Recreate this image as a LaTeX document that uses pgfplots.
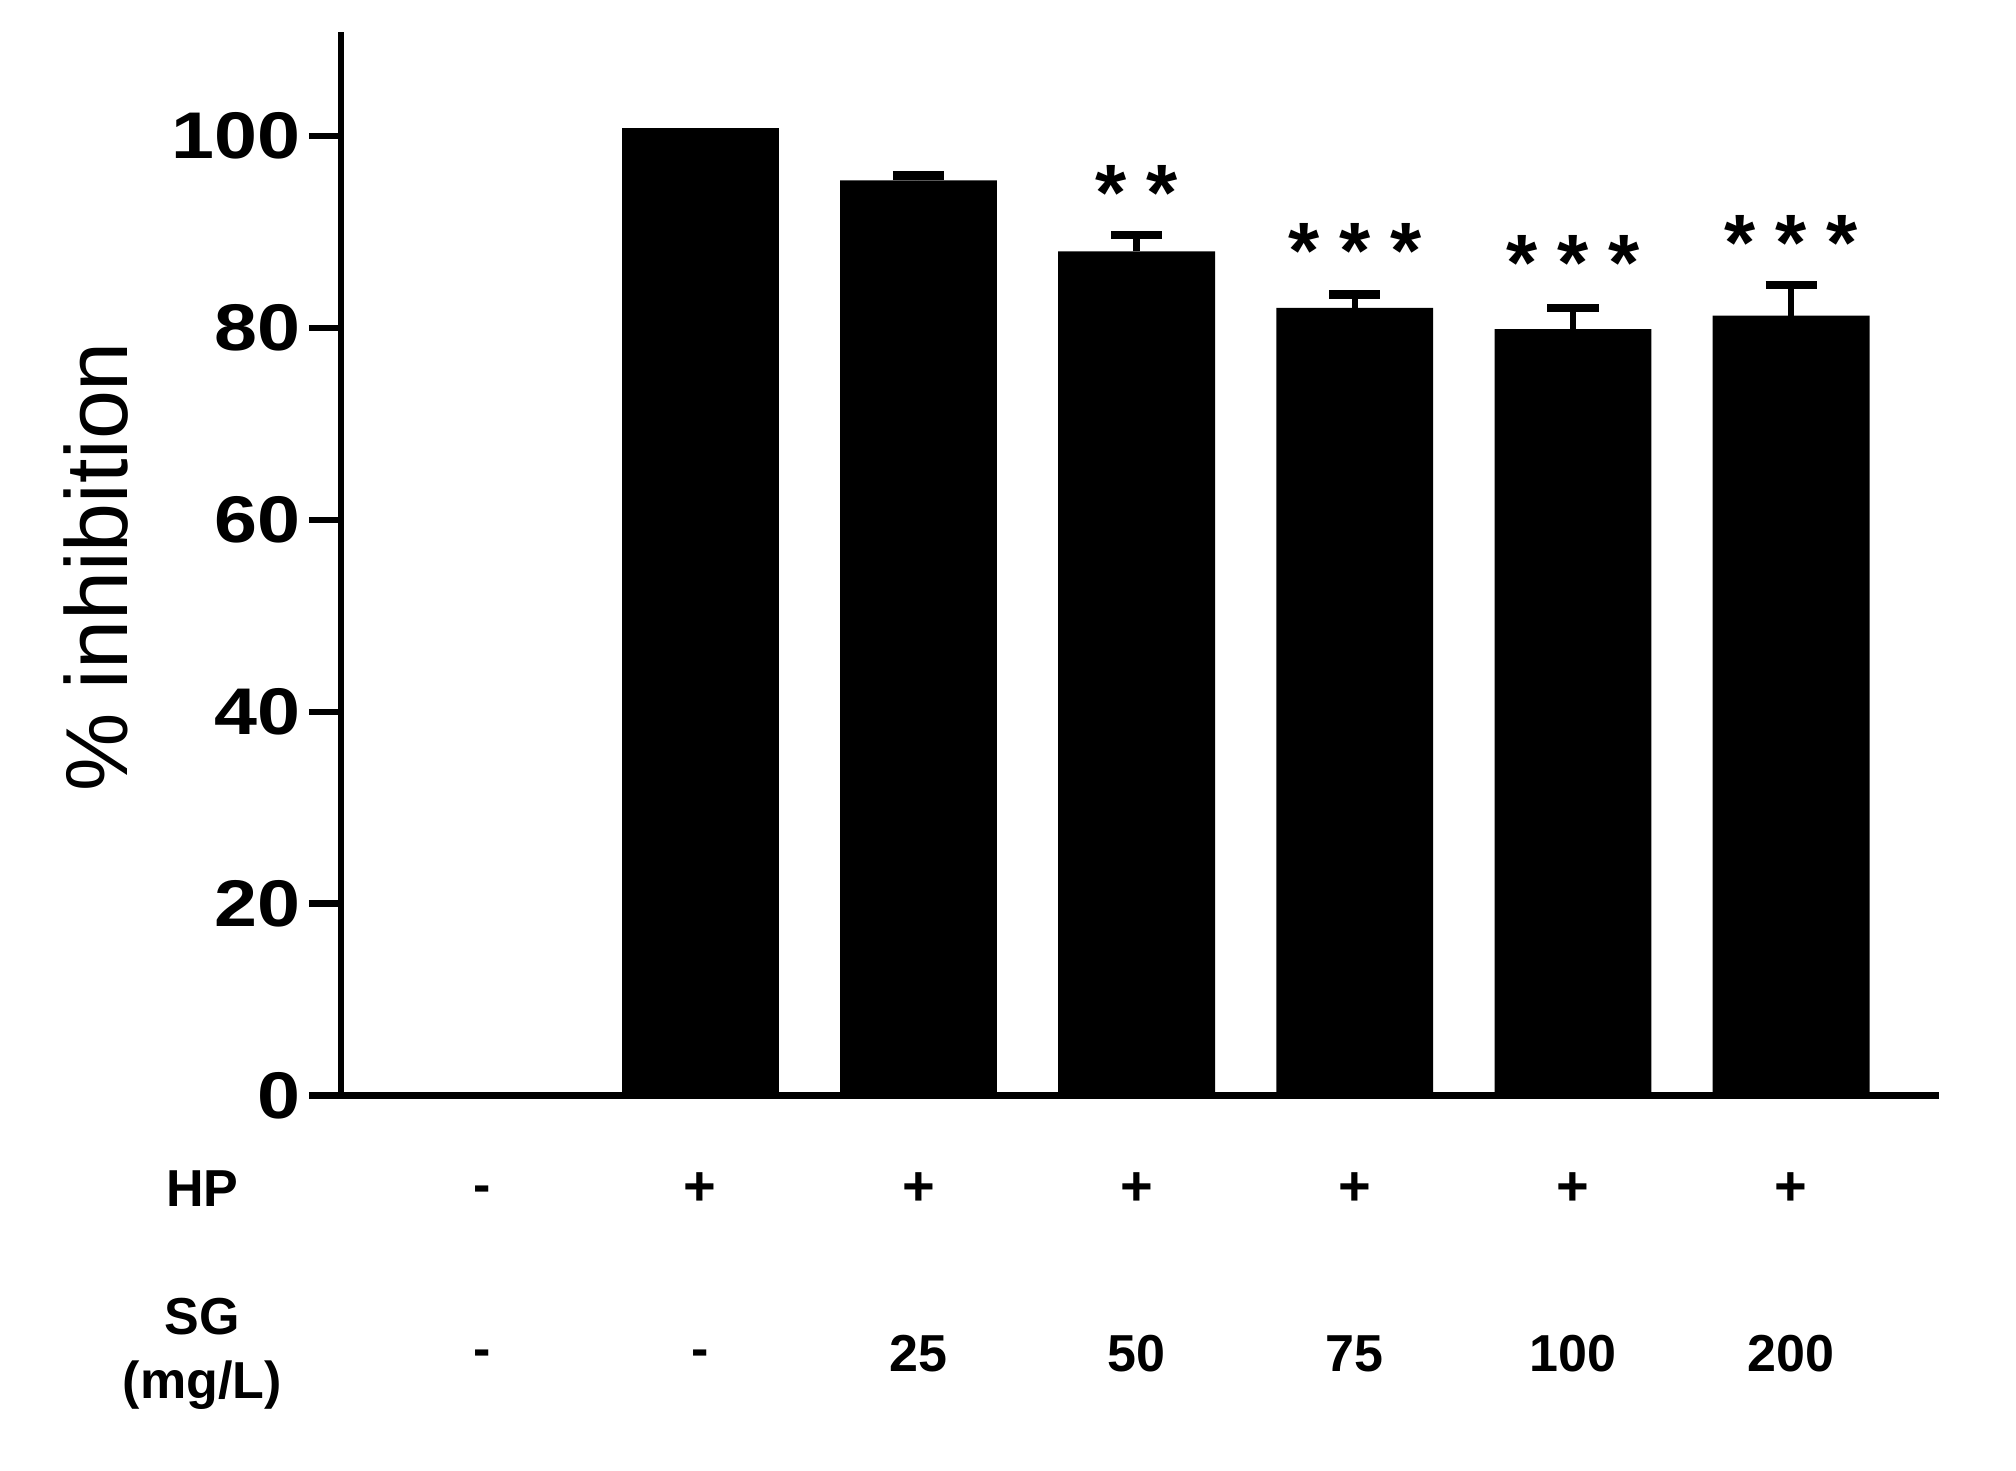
\documentclass[border=0pt]{standalone}
\usepackage{graphicx}
\usepackage{pgfplots}
\pgfplotsset{compat=1.18}
\usepackage{fontspec}
\setmainfont{Liberation Sans}
\begin{document}
\begin{tikzpicture}
\path[use as bounding box] (-85.2pt,-93.85pt) rectangle (418.8pt,273.85pt);
\begin{axis}[
  at={(0,0)}, anchor=south west,
  scale only axis,
  width=399.5pt, height=265.85pt,
  xmin=-0.648, xmax=6.677,
  ymin=0, ymax=110.87,
  axis x line*=bottom, axis y line*=left,
  axis line style={line width=1.6pt,-},
  xtick=\empty,
  ytick={0,20,40,60,80,100},
  tick align=outside,
  major tick length=8pt,
  tick style={line width=1.6pt,black},
  /pgf/number format/assume math mode=true,
  yticklabel style={font=\fontsize{16.5}{16.5}\selectfont\bfseries, inner sep=2pt},
  yticklabel={\scalebox{1.17}[1]{\pgfmathprintnumber{\tick}}},
  clip=false,
  ybar, bar width=39.2pt, bar shift=0pt,
]
\addplot[fill=black, draw=none] coordinates {(1,100.9)};
\addplot[fill=black, draw=none,
  error bars/.cd, y dir=plus, y explicit,
  error bar style={line width=1.6pt,black},
  error mark options={line width=2.2pt, mark size=6.4pt, rotate=90}]
  table[x=x, y=y, y error=e] {
x y e
2 95.4 0.5
3 88.0 1.7
4 82.1 1.4
5 79.9 2.2
6 81.3 3.2
};
% significance stars
\node[anchor=north, inner sep=0pt, font=\fontsize{20}{20}\selectfont\bfseries] at (axis cs:3,97.0) {*\hspace{5pt}*};
\node[anchor=north, inner sep=0pt, font=\fontsize{20}{20}\selectfont\bfseries] at (axis cs:4,91.0) {*\hspace{5pt}*\hspace{5pt}*};
\node[anchor=north, inner sep=0pt, font=\fontsize{20}{20}\selectfont\bfseries] at (axis cs:5,89.7) {*\hspace{5pt}*\hspace{5pt}*};
\node[anchor=north, inner sep=0pt, font=\fontsize{20}{20}\selectfont\bfseries] at (axis cs:6,91.8) {*\hspace{5pt}*\hspace{5pt}*};
% y label
\node[rotate=90, font=\fontsize{22}{22}\selectfont] at (axis cs:-1.769,55.1) {\% inhibition};
% treatment rows
\node[font=\fontsize{13}{13}\selectfont\bfseries] at (axis cs:-1.283,-9.76) {HP};
\node[font=\fontsize{13}{13}\selectfont\bfseries, align=center] at (axis cs:-1.283,-26.9) {SG\\[3pt](mg/L)};
\node[font=\fontsize{13}{13}\selectfont\bfseries] at (axis cs:0,-10.3) {-};
\node[font=\fontsize{14}{14}\selectfont\bfseries] at (axis cs:1,-9.76) {+};
\node[font=\fontsize{14}{14}\selectfont\bfseries] at (axis cs:2,-9.76) {+};
\node[font=\fontsize{14}{14}\selectfont\bfseries] at (axis cs:3,-9.76) {+};
\node[font=\fontsize{14}{14}\selectfont\bfseries] at (axis cs:4,-9.76) {+};
\node[font=\fontsize{14}{14}\selectfont\bfseries] at (axis cs:5,-9.76) {+};
\node[font=\fontsize{14}{14}\selectfont\bfseries] at (axis cs:6,-9.76) {+};
\node[font=\fontsize{13}{13}\selectfont\bfseries] at (axis cs:0,-27.4) {-};
\node[font=\fontsize{13}{13}\selectfont\bfseries] at (axis cs:1,-27.4) {-};
\node[font=\fontsize{13}{13}\selectfont\bfseries] at (axis cs:2,-26.9) {25};
\node[font=\fontsize{13}{13}\selectfont\bfseries] at (axis cs:3,-26.9) {50};
\node[font=\fontsize{13}{13}\selectfont\bfseries] at (axis cs:4,-26.9) {75};
\node[font=\fontsize{13}{13}\selectfont\bfseries] at (axis cs:5,-26.9) {100};
\node[font=\fontsize{13}{13}\selectfont\bfseries] at (axis cs:6,-26.9) {200};
\end{axis}
\end{tikzpicture}
\end{document}
